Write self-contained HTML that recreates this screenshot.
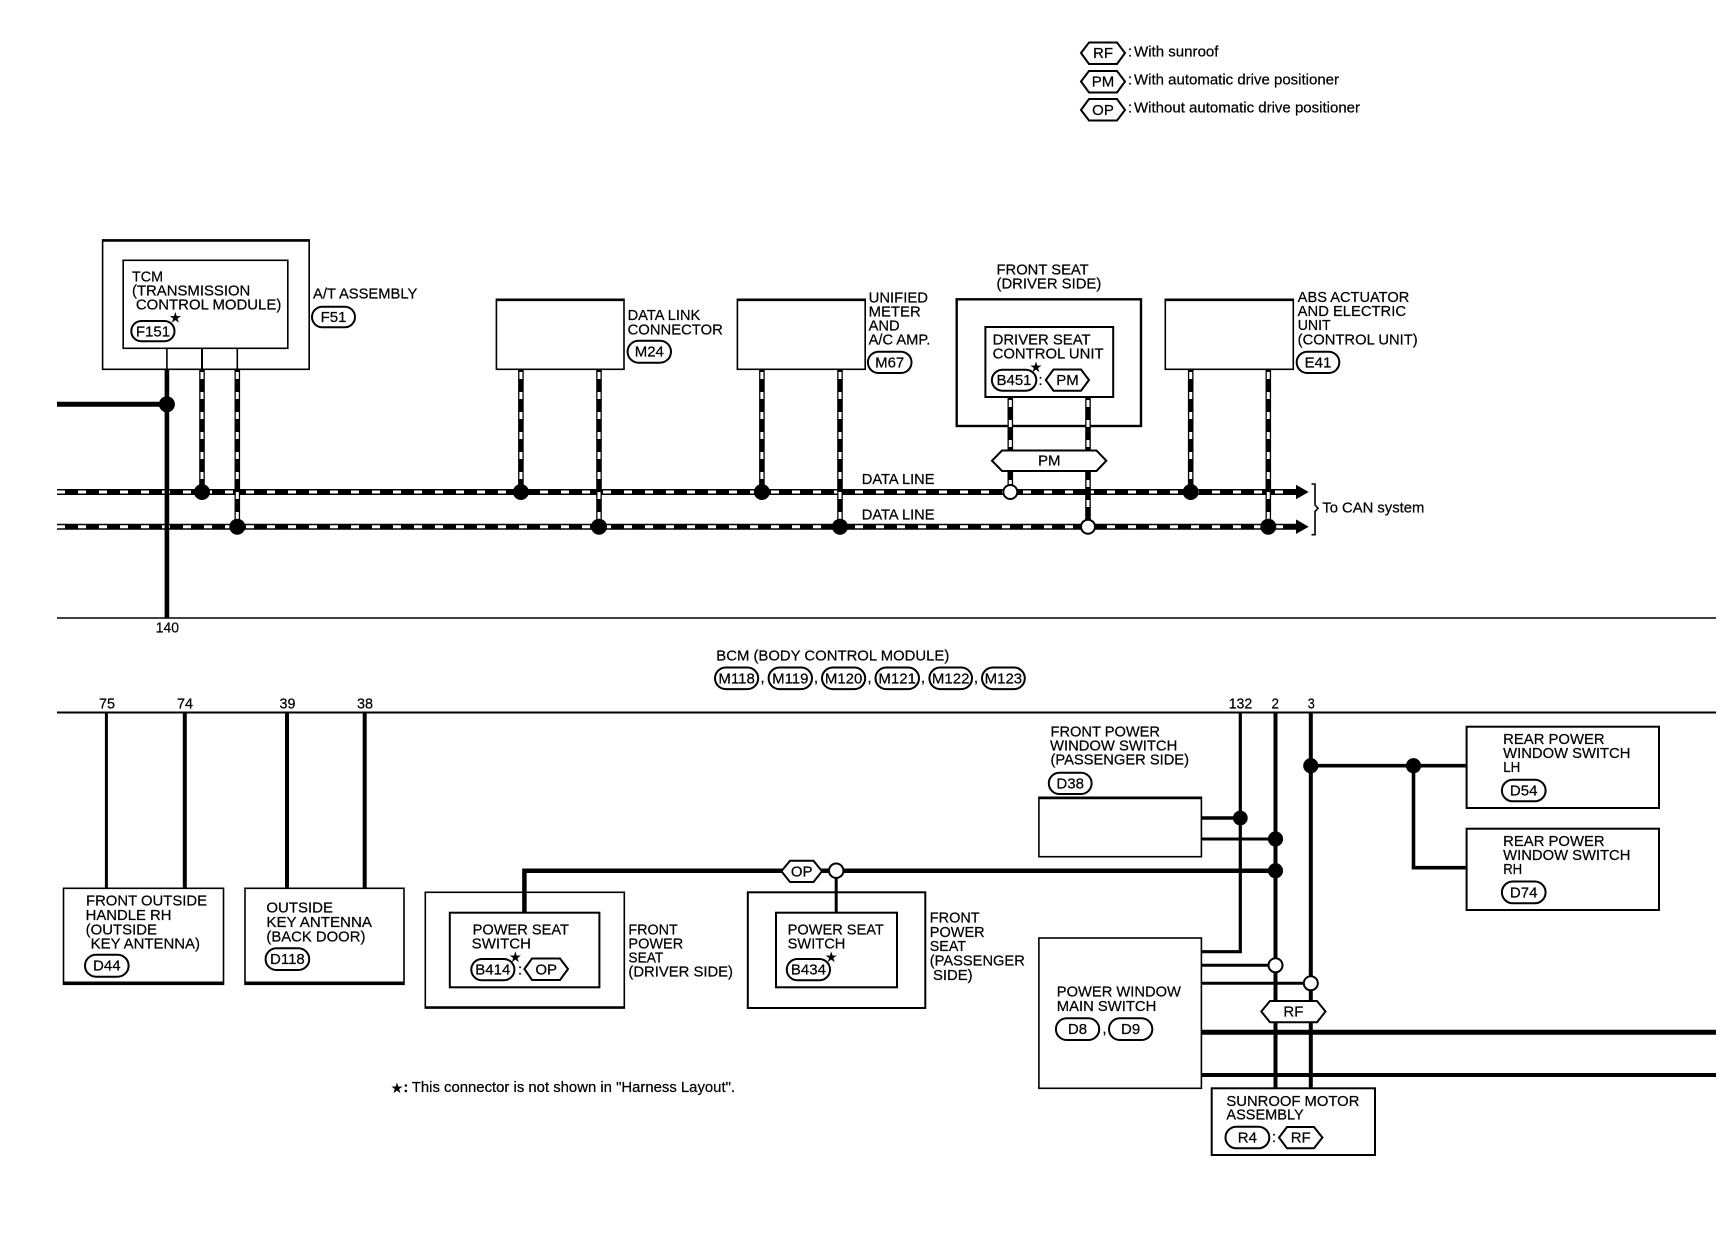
<!DOCTYPE html>
<html><head><meta charset="utf-8"><style>
html,body{margin:0;padding:0;background:#fff}
svg{display:block}
text{font-family:"Liberation Sans",Arial,sans-serif;font-size:14.5px;fill:#000;stroke:#000;stroke-width:.22;transform:translateY(-.7px)}
.c{text-anchor:middle;font-size:15px}
.st{font-family:"DejaVu Sans",sans-serif;font-size:13px;text-anchor:middle;stroke-width:.4}
.p{fill:#fff;stroke:#000;stroke-width:2}
.w{fill:none;stroke:#000}
.b{fill:#fff;stroke:#000;stroke-width:1.6}
.k{stroke:#000;stroke-width:6;fill:none}
.h{stroke:#fff;stroke-width:3;stroke-dasharray:8 13;fill:none}
.v{stroke:#000;stroke-width:5.6;fill:none}
.u{stroke:#fff;stroke-width:3;stroke-dasharray:7 13;fill:none}
.j{fill:#000;stroke:none}
.o{fill:#fff;stroke:#000;stroke-width:2}
</style></head><body>
<svg width="1730" height="1248" viewBox="0 0 1730 1248" xmlns="http://www.w3.org/2000/svg">
<rect width="1730" height="1248" fill="#fff"/>

<!-- legend -->
<polygon class="p" points="1081,53 1089,42.5 1117,42.5 1125,53 1117,64 1089,64"/>
<polygon class="p" points="1081,81.5 1089,71 1117,71 1125,81.5 1117,92.5 1089,92.5"/>
<polygon class="p" points="1081,110 1089,99 1117,99 1125,110 1117,120.5 1089,120.5"/>
<text class="c" x="1103" y="58.5">RF</text><text class="c" x="1103" y="87">PM</text><text class="c" x="1103" y="115.5">OP</text>
<text x="1128" y="57">:</text><text x="1128" y="85">:</text><text x="1128" y="113">:</text>
<text x="1134" y="57.3" textLength="84.5" lengthAdjust="spacingAndGlyphs">With sunroof</text>
<text x="1134" y="85.3" textLength="205" lengthAdjust="spacingAndGlyphs">With automatic drive positioner</text>
<text x="1134" y="113.3" textLength="226" lengthAdjust="spacingAndGlyphs">Without automatic drive positioner</text>

<!-- horizontal rules -->
<line class="w" x1="57" y1="618" x2="1716" y2="618" stroke-width="1.5"/>
<line class="w" x1="57" y1="712.5" x2="1716" y2="712.5" stroke-width="2"/>

<!-- top boxes -->
<rect class="b" x="102.6" y="240" width="206.6" height="129.3"/>
<rect class="b" x="123.2" y="260.3" width="164.6" height="88" stroke-width="1.8"/>
<rect class="b" x="496.4" y="299.3" width="127.6" height="70"/>
<rect class="b" x="737.4" y="299.3" width="127.8" height="70"/>
<rect class="b" x="956.7" y="299.3" width="184.3" height="126.7" style="stroke-width:2.4"/>
<rect class="b" x="985.4" y="327" width="127.8" height="70" style="stroke-width:2"/>
<rect class="b" x="1165.3" y="299.3" width="128" height="70"/>
<path class="w" stroke-width="2.6" d="M102.6 240.5H309.2M496.4 299.8H624M737.4 299.8H865.2M1165.3 299.8H1293.3"/>

<!-- TCM stubs -->
<path class="w" stroke-width="1.6" d="M166.9 348V370M237.3 348V370"/>
<path class="w" stroke-width="2" d="M202 348V370"/>

<!-- data lines -->
<path class="k" d="M57 492H1297M57 526.7H1297"/>
<path class="h" d="M57 492H1297M57 526.7H1297"/>
<polygon points="1296,484.7 1308.7,492 1296,499.3"/>
<polygon points="1296,519.4 1308.7,526.7 1296,534"/>
<path class="w" stroke-width="1.6" d="M1311.5 484H1315V505L1318 508.3L1315 511.6V534.7H1311.5"/>

<!-- TCM power wire -->
<path class="w" stroke-width="4.6" d="M166.9 369V618"/>
<path class="w" stroke-width="5" d="M57 404.3H167"/>

<!-- vertical CAN wires -->
<path class="v" d="M202 369V492M237.3 369V526.7M520.9 369V492M599 369V526.7M761.9 369V492M840 369V526.7M1010.3 397V492M1088 397V526.7M1190.7 369V492M1268.3 369V526.7"/>
<path class="u" d="M202 372V492M237.3 372V526.7M520.9 372V492M599 372V526.7M761.9 372V492M840 372V526.7M1010.3 400V492M1088 400V526.7M1190.7 372V492M1268.3 372V526.7"/>

<circle class="j" cx="166.9" cy="404.3" r="8"/>
<circle class="j" cx="202" cy="492" r="8"/>
<circle class="j" cx="237.3" cy="526.7" r="8"/>
<circle class="j" cx="520.9" cy="492" r="8"/>
<circle class="j" cx="599" cy="526.7" r="8"/>
<circle class="j" cx="761.9" cy="492" r="8"/>
<circle class="j" cx="840" cy="526.7" r="8"/>
<circle class="j" cx="1190.7" cy="492" r="8"/>
<circle class="j" cx="1268.3" cy="526.7" r="8"/>
<circle class="o" cx="1010.3" cy="492" r="7"/>
<circle class="o" cx="1088" cy="526.7" r="7"/>
<polygon class="p" points="992,460.7 1002,450.5 1096.5,450.5 1106.3,460.7 1096.5,471 1002,471"/>
<text class="c" x="1049.3" y="466.2">PM</text>

<!-- top text -->
<text x="132" y="282" textLength="31" lengthAdjust="spacingAndGlyphs">TCM</text>
<text x="132" y="296.3" textLength="118.3" lengthAdjust="spacingAndGlyphs">(TRANSMISSION</text>
<text x="135.9" y="310.3" textLength="145.4" lengthAdjust="spacingAndGlyphs">CONTROL MODULE)</text>
<rect class="p" x="131.3" y="321" width="43.2" height="20.3" rx="10.1"/>
<text class="c" x="153" y="337">F151</text>
<text class="st" x="175.3" y="322.5">★</text>
<text x="313" y="299.3" textLength="104.3" lengthAdjust="spacingAndGlyphs">A/T ASSEMBLY</text>
<rect class="p" x="312" y="306.7" width="43" height="20.6" rx="10.3"/>
<text class="c" x="333.5" y="322.8">F51</text>
<text x="155.8" y="633" textLength="23.2" lengthAdjust="spacingAndGlyphs">140</text>

<text x="627.6" y="320.7" textLength="72.7" lengthAdjust="spacingAndGlyphs">DATA LINK</text>
<text x="627.6" y="335" textLength="95.2" lengthAdjust="spacingAndGlyphs">CONNECTOR</text>
<rect class="p" x="627.6" y="340.7" width="43.4" height="22" rx="11"/>
<text class="c" x="649.3" y="357">M24</text>

<text x="868.6" y="303" textLength="59.4" lengthAdjust="spacingAndGlyphs">UNIFIED</text>
<text x="868.6" y="317.3" textLength="52.1" lengthAdjust="spacingAndGlyphs">METER</text>
<text x="868.6" y="331" textLength="31.1" lengthAdjust="spacingAndGlyphs">AND</text>
<text x="868.6" y="345" textLength="61.7" lengthAdjust="spacingAndGlyphs">A/C AMP.</text>
<rect class="p" x="867.9" y="351.7" width="43.6" height="21.3" rx="10.6"/>
<text class="c" x="889.7" y="368">M67</text>

<text x="996.5" y="275" textLength="92.2" lengthAdjust="spacingAndGlyphs">FRONT SEAT</text>
<text x="996.5" y="289.3" textLength="104.8" lengthAdjust="spacingAndGlyphs">(DRIVER SIDE)</text>
<text x="992.6" y="345" textLength="98" lengthAdjust="spacingAndGlyphs">DRIVER SEAT</text>
<text x="992.6" y="359" textLength="111" lengthAdjust="spacingAndGlyphs">CONTROL UNIT</text>
<rect class="p" x="991.9" y="369.7" width="44.4" height="21" rx="10.5"/>
<text class="c" x="1014" y="385.8">B451</text>
<text class="st" x="1036" y="372.2">★</text>
<text x="1038.5" y="385.5">:</text>
<polygon class="p" points="1045.8,380 1053.5,369.5 1081,369.5 1089,380 1081,390.7 1053.5,390.7"/>
<text class="c" x="1067.5" y="385.8">PM</text>

<text x="1297.7" y="302.7" textLength="111.6" lengthAdjust="spacingAndGlyphs">ABS ACTUATOR</text>
<text x="1297.7" y="316.7" textLength="108.3" lengthAdjust="spacingAndGlyphs">AND ELECTRIC</text>
<text x="1297.7" y="330.7" textLength="33" lengthAdjust="spacingAndGlyphs">UNIT</text>
<text x="1297.7" y="345.3" textLength="120" lengthAdjust="spacingAndGlyphs">(CONTROL UNIT)</text>
<rect class="p" x="1296.7" y="351.7" width="42.6" height="21.3" rx="10.6"/>
<text class="c" x="1318" y="368">E41</text>

<text x="861.8" y="484.7" textLength="72.7" lengthAdjust="spacingAndGlyphs">DATA LINE</text>
<text x="861.8" y="520" textLength="72.7" lengthAdjust="spacingAndGlyphs">DATA LINE</text>
<text x="1322.3" y="513.3" textLength="102" lengthAdjust="spacingAndGlyphs">To CAN system</text>

<!-- BCM header -->
<text x="716.3" y="661.3" textLength="233" lengthAdjust="spacingAndGlyphs">BCM (BODY CONTROL MODULE)</text>
<rect class="p" x="715" y="667.5" width="43.2" height="21.6" rx="10.8"/><text class="c" x="736.6" y="684">M118</text>
<text x="760.5" y="683">,</text>
<rect class="p" x="768.6" y="667.5" width="43.4" height="21.6" rx="10.8"/><text class="c" x="790.3" y="684">M119</text>
<text x="814" y="683">,</text>
<rect class="p" x="822" y="667.5" width="43.2" height="21.6" rx="10.8"/><text class="c" x="843.6" y="684">M120</text>
<text x="867.5" y="683">,</text>
<rect class="p" x="875.5" y="667.5" width="43.5" height="21.6" rx="10.8"/><text class="c" x="897.2" y="684">M121</text>
<text x="921" y="683">,</text>
<rect class="p" x="929.4" y="667.5" width="42.6" height="21.6" rx="10.8"/><text class="c" x="950.7" y="684">M122</text>
<text x="974" y="683">,</text>
<rect class="p" x="982" y="667.5" width="42.8" height="21.6" rx="10.8"/><text class="c" x="1003.4" y="684">M123</text>

<text x="99" y="709.3" textLength="16" lengthAdjust="spacingAndGlyphs">75</text>
<text x="177" y="709.3" textLength="16" lengthAdjust="spacingAndGlyphs">74</text>
<text x="279.5" y="709.3" textLength="16" lengthAdjust="spacingAndGlyphs">39</text>
<text x="357" y="709.3" textLength="16" lengthAdjust="spacingAndGlyphs">38</text>
<text x="1228.7" y="709.3" textLength="23.6" lengthAdjust="spacingAndGlyphs">132</text>
<text x="1271.5" y="709.3" textLength="7.5" lengthAdjust="spacingAndGlyphs">2</text>
<text x="1307.7" y="709.3" textLength="7" lengthAdjust="spacingAndGlyphs">3</text>

<!-- lower left wires -->
<path class="w" stroke-width="3" d="M106.4 712V888"/>
<path class="w" stroke-width="4" d="M184.8 712V888M287 712V888M364.7 712V888"/>

<!-- lower boxes -->
<rect class="b" x="63.5" y="888.3" width="160" height="96"/>
<rect class="b" x="245" y="888.3" width="159" height="96"/>
<path class="w" stroke-width="3" d="M63.5 983H223.5M245 983H404"/>
<rect class="b" x="425.3" y="892.3" width="199" height="115.7"/>
<rect class="b" x="747.8" y="892.3" width="177.5" height="115.7" style="stroke-width:2"/>
<path class="w" stroke-width="2.4" d="M425.3 1007.4H624.3"/>

<text x="86" y="906.3" textLength="121" lengthAdjust="spacingAndGlyphs">FRONT OUTSIDE</text>
<text x="85.7" y="920.7" textLength="85.8" lengthAdjust="spacingAndGlyphs">HANDLE RH</text>
<text x="85.7" y="935" textLength="71.3" lengthAdjust="spacingAndGlyphs">(OUTSIDE</text>
<text x="90.7" y="949.3" textLength="109.3" lengthAdjust="spacingAndGlyphs">KEY ANTENNA)</text>
<rect class="p" x="85" y="954.7" width="43.6" height="22" rx="11"/>
<text class="c" x="106.8" y="971">D44</text>
<text x="266.4" y="913.3" textLength="66.6" lengthAdjust="spacingAndGlyphs">OUTSIDE</text>
<text x="266.4" y="927.7" textLength="105.6" lengthAdjust="spacingAndGlyphs">KEY ANTENNA</text>
<text x="266.4" y="942" textLength="99" lengthAdjust="spacingAndGlyphs">(BACK DOOR)</text>
<rect class="p" x="265.6" y="948.3" width="43.6" height="21.7" rx="10.8"/>
<text class="c" x="287.4" y="964.7">D118</text>

<!-- OP wire -->
<path class="w" stroke-width="4.5" d="M524.4 913V870.7H1276"/>
<path class="w" stroke-width="3" d="M836.2 871V913"/>
<polygon class="p" points="781.4,871.3 790,860.8 813.5,860.8 822,871.3 813.5,882 790,882"/>
<text class="c" x="801.7" y="877">OP</text>
<circle class="o" cx="836.2" cy="870.7" r="7.2"/>

<rect class="b" x="449.8" y="912.7" width="149.6" height="74.6" style="stroke-width:2"/>
<rect class="b" x="776" y="912.7" width="121" height="74.6" style="stroke-width:2"/>
<text x="472.6" y="935" textLength="96.4" lengthAdjust="spacingAndGlyphs">POWER SEAT</text>
<text x="471.7" y="949.3" textLength="59.3" lengthAdjust="spacingAndGlyphs">SWITCH</text>
<rect class="p" x="471.3" y="959" width="43.1" height="21.3" rx="10.6"/>
<text class="c" x="492.8" y="975.4">B414</text>
<text class="st" x="515.3" y="962.2">★</text>
<text x="518" y="975">:</text>
<polygon class="p" points="524.4,969 532,958.5 560,958.5 568,969 560,980 532,980"/>
<text class="c" x="546.2" y="975">OP</text>
<text x="787.7" y="935" textLength="96.1" lengthAdjust="spacingAndGlyphs">POWER SEAT</text>
<text x="787.7" y="949.3" textLength="57.6" lengthAdjust="spacingAndGlyphs">SWITCH</text>
<rect class="p" x="786.8" y="959" width="43.2" height="21.3" rx="10.6"/>
<text class="c" x="808.4" y="975.4">B434</text>
<text class="st" x="831.2" y="962.2">★</text>

<text x="628.4" y="935" textLength="49.4" lengthAdjust="spacingAndGlyphs">FRONT</text>
<text x="628.4" y="949.3" textLength="54.8" lengthAdjust="spacingAndGlyphs">POWER</text>
<text x="628.4" y="963" textLength="34.9" lengthAdjust="spacingAndGlyphs">SEAT</text>
<text x="628.4" y="977.3" textLength="104.6" lengthAdjust="spacingAndGlyphs">(DRIVER SIDE)</text>
<text x="929.8" y="923.3" textLength="49.8" lengthAdjust="spacingAndGlyphs">FRONT</text>
<text x="929.8" y="937.7" textLength="54.8" lengthAdjust="spacingAndGlyphs">POWER</text>
<text x="929.8" y="951.7" textLength="36.2" lengthAdjust="spacingAndGlyphs">SEAT</text>
<text x="929.8" y="966" textLength="95" lengthAdjust="spacingAndGlyphs">(PASSENGER</text>
<text x="933" y="980.7" textLength="39.6" lengthAdjust="spacingAndGlyphs">SIDE)</text>

<text class="st" x="397" y="1093">★</text>
<text x="403.5" y="1092.7" style="font-weight:bold">:</text>
<text x="411.8" y="1092.7" textLength="323.2" lengthAdjust="spacingAndGlyphs">This connector is not shown in "Harness Layout".</text>

<!-- right section boxes -->
<rect class="b" x="1038.9" y="797.3" width="162.5" height="59.4"/>
<path class="w" stroke-width="2.6" d="M1038.9 798H1201.4"/>
<rect class="b" x="1038.9" y="938" width="162.5" height="150.3"/>
<rect class="b" x="1466.6" y="726.7" width="192.4" height="81.3" style="stroke-width:2"/>
<rect class="b" x="1466.6" y="828.7" width="192.4" height="81.3" style="stroke-width:2"/>

<path class="w" stroke-width="3.2" d="M1240.3 712V951.7H1201"/>
<path class="w" stroke-width="4" d="M1275.5 712V1088M1310.8 712V1088"/>
<path class="w" stroke-width="3.6" d="M1201 818H1240.3"/>
<path class="w" stroke-width="3" d="M1201 839H1275.5M1201 965.3H1275.5M1201 983.3H1310.8"/>
<path class="w" stroke-width="3.6" d="M1310.8 765.7H1466.6M1413.5 765.7V867.7H1466.6"/>
<path class="w" stroke-width="5" d="M1201 1032.3H1716"/>
<path class="w" stroke-width="4" d="M1201 1075H1716"/>

<circle class="j" cx="1310.8" cy="765.7" r="7.6"/>
<circle class="j" cx="1413.5" cy="765.7" r="7.6"/>
<circle class="j" cx="1240.3" cy="818" r="7.4"/>
<circle class="j" cx="1275.5" cy="839" r="7.6"/>
<circle class="j" cx="1275.5" cy="870.7" r="7.6"/>
<circle class="o" cx="1275.5" cy="965.3" r="7"/>
<circle class="o" cx="1310.8" cy="983.3" r="7"/>
<polygon class="p" points="1261.3,1011.5 1270,1001 1317,1001 1325.5,1011.5 1317,1022.3 1270,1022.3"/>
<text class="c" x="1293.4" y="1017.2">RF</text>

<rect class="b" x="1211.7" y="1088.3" width="163.3" height="66.7" style="stroke-width:2"/>
<text x="1226.4" y="1106.7" textLength="133" lengthAdjust="spacingAndGlyphs">SUNROOF MOTOR</text>
<text x="1226.4" y="1120.3" textLength="77.3" lengthAdjust="spacingAndGlyphs">ASSEMBLY</text>
<rect class="p" x="1225.5" y="1126.7" width="43.8" height="21.6" rx="10.8"/>
<text class="c" x="1247.4" y="1143">R4</text>
<text x="1272" y="1142.5">:</text>
<polygon class="p" points="1279,1137.5 1287,1127 1314,1127 1322.4,1137.5 1314,1148.3 1287,1148.3"/>
<text class="c" x="1300.7" y="1143">RF</text>

<text x="1050.5" y="737.3" textLength="109.5" lengthAdjust="spacingAndGlyphs">FRONT POWER</text>
<text x="1050" y="751.3" textLength="127.3" lengthAdjust="spacingAndGlyphs">WINDOW SWITCH</text>
<text x="1050.5" y="765.3" textLength="138.5" lengthAdjust="spacingAndGlyphs">(PASSENGER SIDE)</text>
<rect class="p" x="1048.8" y="772.7" width="42.8" height="21.3" rx="10.6"/>
<text class="c" x="1070.2" y="789">D38</text>

<text x="1056.8" y="997.3" textLength="124.1" lengthAdjust="spacingAndGlyphs">POWER WINDOW</text>
<text x="1056.8" y="1011.7" textLength="99.5" lengthAdjust="spacingAndGlyphs">MAIN SWITCH</text>
<rect class="p" x="1055.9" y="1018.3" width="43.3" height="21.7" rx="10.8"/>
<text class="c" x="1077.5" y="1034.7">D8</text>
<text x="1102.5" y="1034">,</text>
<rect class="p" x="1109" y="1018.3" width="43.3" height="21.7" rx="10.8"/>
<text class="c" x="1130.6" y="1034.7">D9</text>

<text x="1503.2" y="744.5" textLength="101.4" lengthAdjust="spacingAndGlyphs">REAR POWER</text>
<text x="1503.2" y="758.5" textLength="127.2" lengthAdjust="spacingAndGlyphs">WINDOW SWITCH</text>
<text x="1503.2" y="772.5" textLength="17" lengthAdjust="spacingAndGlyphs">LH</text>
<rect class="p" x="1501.9" y="779.7" width="43.7" height="21.6" rx="10.8"/>
<text class="c" x="1523.7" y="796">D54</text>
<text x="1503.2" y="846.8" textLength="101.4" lengthAdjust="spacingAndGlyphs">REAR POWER</text>
<text x="1503.2" y="860.5" textLength="127.2" lengthAdjust="spacingAndGlyphs">WINDOW SWITCH</text>
<text x="1503.2" y="874.5" textLength="19" lengthAdjust="spacingAndGlyphs">RH</text>
<rect class="p" x="1501.9" y="881.5" width="43.7" height="21.8" rx="10.9"/>
<text class="c" x="1523.7" y="898">D74</text>
</svg>
</body></html>
